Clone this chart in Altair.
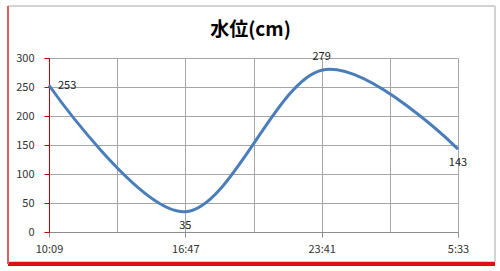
import altair as alt
import pandas as pd

times = ["10:09", "16:47", "23:41", "5:33"]
levels = [253, 35, 279, 143]
y_ticks = [0, 50, 100, 150, 200, 250, 300]
title_text = "水位(cm)"

STEP = 2  # each labelled category sits two grid cells apart
df = pd.DataFrame({
    "idx": [i * STEP for i in range(len(times))],
    "time": times,
    "level": levels,
})
n_cells = (len(times) - 1) * STEP
label_expr = "{" + ",".join(f"'{i*STEP}':'{t}'" for i, t in enumerate(times)) + "}"

W, H = 409, 174
FONT = "Noto Sans CJK JP"

x = alt.X("idx:Q", scale=alt.Scale(domain=[0, n_cells], nice=False),
          axis=alt.Axis(values=list(range(n_cells + 1)), title=None,
                        labelExpr=f"{label_expr}[''+datum.value] || ''",
                        labelFlush=False, labelOverlap=False,
                        grid=True, gridColor="#a6a6a6", gridWidth=1,
                        domainColor="#8c8c8c", tickColor="#8c8c8c", tickSize=5,
                        tickOpacity={"condition": {"test": f"datum.value % {STEP} === 0", "value": 1},
                                     "value": 0},
                        labelColor="#333333", labelFontSize=11, labelFont=FONT,
                        labelPadding=6))
y = alt.Y("level:Q", scale=alt.Scale(domain=[0, 300], nice=False),
          axis=alt.Axis(values=y_ticks, title=None, grid=True,
                        labelOverlap=False, labelFlush=False,
                        gridColor="#a6a6a6", gridWidth=1,
                        domainColor="#c00000", tickColor="#c00000", tickSize=5,
                        labelColor="#333333", labelFontSize=11, labelFont=FONT,
                        labelPadding=10))

# decorative frame (outer box with red shadow)
frame = alt.Chart(df).mark_rect(fill="transparent", stroke="#d0d0d0", strokeWidth=1).encode(
    x=alt.value(-41), x2=alt.value(W + 37), y=alt.value(-52), y2=alt.value(H + 30)
)
shadow = alt.Chart(df).mark_rect(fill="#e01010", opacity=0.85).encode(
    x=alt.value(-41), x2=alt.value(W + 37), y=alt.value(H + 30), y2=alt.value(H + 34)
)
left_edge = alt.Chart(df).mark_rect(fill="#e06060").encode(
    x=alt.value(-42), x2=alt.value(-40), y=alt.value(-52), y2=alt.value(H + 32)
)
title = alt.Chart(pd.DataFrame({"t": [title_text]})).mark_text(
    font=FONT, fontSize=19, fontWeight="bold", color="#000000",
    align="center", baseline="middle").encode(
    x=alt.value(W / 2 - 3), y=alt.value(-28), text="t:N")

line = alt.Chart(df).mark_line(interpolate="cardinal", color="#4a7ebb",
                               strokeWidth=3).encode(x=x, y=y)

base_txt = dict(fontSize=11, color="#222222", font=FONT)
lab_right = alt.Chart(df).transform_filter(alt.datum.time == times[0]).mark_text(
    align="left", baseline="middle", dx=9, dy=1, **base_txt).encode(
    x=x, y=y, text="level:Q")
lab_below = alt.Chart(df).transform_filter(
    (alt.datum.time == times[1]) | (alt.datum.time == times[3])).mark_text(
    align="center", baseline="top", dy=8, **base_txt).encode(
    x=x, y=y, text="level:Q")
lab_above = alt.Chart(df).transform_filter(alt.datum.time == times[2]).mark_text(
    align="center", baseline="bottom", dy=-8, **base_txt).encode(
    x=x, y=y, text="level:Q")

chart = alt.layer(frame, shadow, left_edge, title, line, lab_right, lab_below, lab_above).properties(
    width=W, height=H,
    padding={"left": 49, "top": 58, "right": 42, "bottom": 39},
    autosize=alt.AutoSizeParams(type="none"),
).configure_view(stroke=None).configure(background="white")

chart.save("out.html", embed_options={"renderer": "svg", "actions": False})
